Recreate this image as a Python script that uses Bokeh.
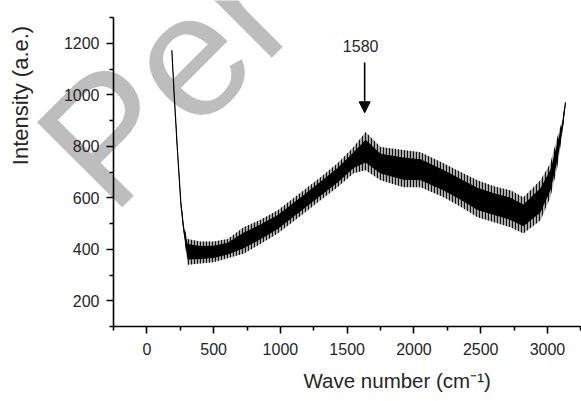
import math
from bokeh.plotting import figure
from bokeh.models import (Range1d, FixedTicker, Label, Arrow, NormalHead, Title)
from bokeh.core.properties import value
from bokeh.embed import file_html
from bokeh.resources import INLINE

# Spectrum: wave number, lower and upper edge of the noisy band
wave_number = [187, 205, 230, 255, 277, 305, 400, 500, 605, 725, 850, 980, 1175,
               1300, 1428, 1548, 1638, 1750, 1922, 2050, 2222, 2350, 2476, 2600,
               2723, 2820, 2947, 3022, 3074, 3112, 3135]
band_lower = [1165, 985, 760, 560, 455, 340, 345, 350, 365, 383, 420, 461, 539,
              590, 641, 695, 707, 668, 641, 641, 602, 565, 524, 505,
              485, 461, 512, 602, 719, 851, 960]
band_upper = [1180, 1005, 790, 590, 490, 440, 430, 430, 440, 485, 515, 551, 629,
              680, 734, 797, 855, 797, 785, 777, 734, 700, 668, 645,
              629, 602, 668, 734, 836, 902, 980]

x_ticks = [0, 500, 1000, 1500, 2000, 2500, 3000]
x_minor = [-250, 250, 750, 1250, 1750, 2250, 2750, 3250]
y_ticks = [200, 400, 600, 800, 1000, 1200]
y_minor = [100, 300, 500, 700, 900, 1100, 1300]

peak_label = "1580"
peak_pos = 1631
arrow_top, arrow_tip = 1125, 930
label_y = 1190

watermark = "Per"
y_title = "Intensity (a.e.)"
x_title = "Wave number (cm\u207b\u00b9)"

TXT = "#262626"
FONT = "Liberation Sans"
W, H = 581, 401

# --- underlay root: watermark and y-axis title (page pixel coordinates) ---
wm = figure(width=W, height=H, output_backend="svg", toolbar_location=None,
            x_range=Range1d(0, W), y_range=Range1d(H, 0), min_border=0)
wm.axis.visible = False
wm.grid.visible = False
wm.outline_line_color = None
wm.text(x=[165], y=[78], text=[watermark], angle=math.pi / 4,
        text_font=value(FONT), text_font_size=value("175px"), text_color="#bdbdbd",
        text_align="center", text_baseline="middle")
wm.text(x=[20], y=[95], text=[y_title], angle=math.pi / 2,
        text_font=value(FONT), text_font_size=value("22px"), text_color=TXT,
        text_align="center", text_baseline="middle")

# --- chart root, pulled up over the underlay ---
p = figure(width=W, height=H, output_backend="svg", toolbar_location=None,
           x_range=Range1d(-250, 3255), y_range=Range1d(100, 1300),
           min_border_left=113, min_border_right=0, min_border_top=17,
           min_border_bottom=75, margin=(-H, 0, 0, 0))
p.outline_line_color = None
p.xgrid.visible = False
p.ygrid.visible = False
p.background_fill_alpha = 0
p.border_fill_alpha = 0

mid = [(a + b) / 2 for a, b in zip(band_lower, band_upper)]
core_lo = [m - 0.3 * (b - a) for m, a, b in zip(mid, band_lower, band_upper)]
core_hi = [m + 0.3 * (b - a) for m, a, b in zip(mid, band_lower, band_upper)]

# outer noisy fringe: light fill with dense vertical striation
p.varea(x=wave_number, y1=band_lower, y2=band_upper, fill_color="black", fill_alpha=0.3,
        hatch_pattern="vertical_line", hatch_color="black", hatch_scale=3,
        hatch_weight=1.2, hatch_alpha=0.9)
p.varea(x=wave_number, y1=core_lo, y2=core_hi, fill_color="black", fill_alpha=1.0)
p.line(x=wave_number, y=mid, line_color="black", line_width=1.2)

p.add_layout(Arrow(end=NormalHead(size=11, fill_color="black", line_color="black"),
                   x_start=peak_pos, y_start=arrow_top, x_end=peak_pos, y_end=arrow_tip,
                   line_color="black", line_width=1.6))
p.add_layout(Label(x=peak_pos - 30, y=label_y, text=peak_label, text_font=FONT,
                   text_font_size="16px", text_color=TXT, text_align="center",
                   text_baseline="middle"))

for ax in (p.xaxis[0], p.yaxis[0]):
    ax.axis_line_color = "black"
    ax.axis_line_width = 1.6
    ax.major_tick_line_color = "black"
    ax.minor_tick_line_color = "black"
    ax.major_tick_line_width = 1.6
    ax.minor_tick_line_width = 1.6
    ax.major_tick_in = 0
    ax.major_tick_out = 7
    ax.minor_tick_in = 0
    ax.minor_tick_out = 4
    ax.major_label_text_font = FONT
    ax.major_label_text_font_size = "16px"
    ax.major_label_text_color = TXT

p.xaxis[0].ticker = FixedTicker(ticks=x_ticks, minor_ticks=x_minor)
p.yaxis[0].ticker = FixedTicker(ticks=y_ticks, minor_ticks=y_minor)
p.xaxis[0].major_label_standoff = 9
p.yaxis[0].major_label_standoff = 7

xt = Title(text=x_title, align="left", offset=190, standoff=19,
           text_font=FONT, text_font_size="20.5px", text_font_style="normal",
           text_color=TXT)
p.add_layout(xt, "below")

open("out.html", "w").write(file_html([wm, p], INLINE))
